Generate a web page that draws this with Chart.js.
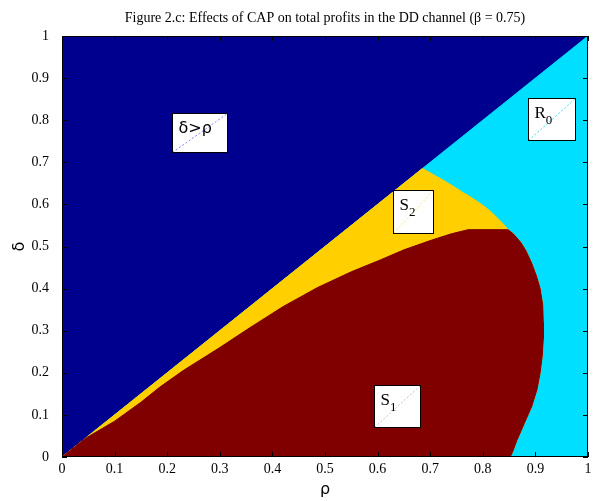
<!DOCTYPE html>
<html>
<head>
<meta charset="utf-8">
<script src="https://cdn.jsdelivr.net/npm/chart.js@4.4.0/dist/chart.umd.min.js"></script>
<style>
  html, body { margin: 0; padding: 0; background: #fff; }
  #wrap { width: 606px; height: 501px; }
</style>
</head>
<body>
<div id="wrap"><canvas id="chart" width="606" height="501"></canvas></div>
<script>
// Axis ticks
const tickValues = [0, 0.1, 0.2, 0.3, 0.4, 0.5, 0.6, 0.7, 0.8, 0.9, 1];
const tickLabels = ['0', '0.1', '0.2', '0.3', '0.4', '0.5', '0.6', '0.7', '0.8', '0.9', '1'];

// Upper-left edge of S1 (S1 / S2 boundary), from origin to the flat top
const s1UpperRho   = [0, 0.044, 0.10, 0.15, 0.186, 0.23, 0.30, 0.357, 0.42, 0.485, 0.55, 0.605, 0.65, 0.70, 0.74, 0.772, 0.848];
const s1UpperDelta = [0, 0.044, 0.085, 0.13, 0.166, 0.205, 0.26, 0.307, 0.357, 0.402, 0.44, 0.468, 0.492, 0.514, 0.53, 0.54, 0.54];

// Right edge of S1 (S1 / R0 boundary), top to bottom
const s1RightRho   = [0.848, 0.858, 0.872, 0.882, 0.893, 0.902, 0.909, 0.914, 0.915, 0.915, 0.913, 0.909, 0.903, 0.893, 0.879, 0.865, 0.856, 0.852];
const s1RightDelta = [0.54, 0.53, 0.51, 0.49, 0.46, 0.43, 0.40, 0.36, 0.32, 0.28, 0.24, 0.20, 0.16, 0.12, 0.08, 0.04, 0.01, 0];

// Upper edge of S2 (S2 / R0 boundary), from the diagonal down to S1
const s2CapRho   = [0.685, 0.70, 0.72, 0.74, 0.76, 0.78, 0.80, 0.815, 0.83, 0.84, 0.848];
const s2CapDelta = [0.685, 0.675, 0.661, 0.646, 0.630, 0.615, 0.598, 0.583, 0.565, 0.552, 0.54];

// Region labels: text and subscript
const labelText = ['δ>ρ', 'S', 'S', 'R'];
const labelSub  = ['', '2', '1', '0'];

const pts = (xs, ys) => xs.map((x, i) => ({ x: x, y: ys[i] }));

const blueShape = pts([0, 0, 1, 1], [0, 1, 1, 0]);
const cyanShape = pts([0, 1, 1], [0, 1, 0]);
const yellowShape = [{ x: 0, y: 0 }]
    .concat(pts(s2CapRho, s2CapDelta))
    .concat(pts(s1RightRho, s1RightDelta));
const redShape = pts(s1UpperRho, s1UpperDelta)
    .concat(pts(s1RightRho, s1RightDelta).slice(1));

// label boxes, corners in (rho, delta)
const boxes = [
    { x0: 0.209, x1: 0.314, y0: 0.724, y1: 0.817, line: 'rgba(120,120,255,0.9)', font: '16px "DejaVu Sans", sans-serif' },
    { x0: 0.629, x1: 0.705, y0: 0.532, y1: 0.634, line: 'rgba(255,207,0,0.5)', font: '17px "Liberation Serif", serif' },
    { x0: 0.593, x1: 0.681, y0: 0.071, y1: 0.171, line: 'rgba(170,40,40,0.35)', font: '17px "Liberation Serif", serif' },
    { x0: 0.886, x1: 0.975, y0: 0.753, y1: 0.853, line: 'rgba(0,223,255,0.8)', font: '17px "Liberation Serif", serif' }
];

function region(data, color, order) {
    return {
        data: data,
        showLine: true,
        fill: 'shape',
        backgroundColor: color,
        borderColor: color,
        borderWidth: 1,
        pointRadius: 0,
        order: order
    };
}

const serif = '"Liberation Serif", "Times New Roman", serif';

const framePlugin = {
    id: 'frame',
    afterDraw(chart) {
        const { ctx, chartArea: a, scales: { x, y } } = chart;
        ctx.save();

        // region label boxes
        boxes.forEach((b, i) => {
            const l = Math.round(x.getPixelForValue(b.x0)) + 0.5;
            const r = Math.round(x.getPixelForValue(b.x1)) + 0.5;
            const t = Math.round(y.getPixelForValue(b.y1)) + 0.5;
            const bt = Math.round(y.getPixelForValue(b.y0)) + 0.5;
            ctx.fillStyle = '#fff';
            ctx.fillRect(l, t, r - l, bt - t);
            ctx.strokeStyle = b.line;
            ctx.lineWidth = 1;
            ctx.setLineDash([2, 2]);
            ctx.beginPath();
            ctx.moveTo(l, bt);
            ctx.lineTo(r, t);
            ctx.stroke();
            ctx.setLineDash([]);
            ctx.strokeStyle = '#000';
            ctx.strokeRect(l, t, r - l, bt - t);

            ctx.fillStyle = '#000';
            ctx.textAlign = 'left';
            ctx.textBaseline = 'alphabetic';
            ctx.font = b.font;
            ctx.fillText(labelText[i], l + 6, t + 19);
            if (labelSub[i]) {
                const w = ctx.measureText(labelText[i]).width;
                ctx.font = '13px ' + serif;
                ctx.fillText(labelSub[i], l + 6 + w, t + 25);
            }
        });

        // axes box
        ctx.strokeStyle = '#000';
        ctx.lineWidth = 1;
        ctx.strokeRect(a.left + 0.5, a.top + 0.5, a.right - a.left - 1, a.bottom - a.top - 1);

        // inward ticks on all four sides
        const len = 5;
        ctx.beginPath();
        tickValues.forEach(v => {
            const px = Math.round(x.getPixelForValue(v)) + 0.5;
            ctx.moveTo(px, a.bottom); ctx.lineTo(px, a.bottom - len);
            ctx.moveTo(px, a.top); ctx.lineTo(px, a.top + len);
            const py = Math.round(y.getPixelForValue(v)) + 0.5;
            ctx.moveTo(a.left, py); ctx.lineTo(a.left + len, py);
            ctx.moveTo(a.right, py); ctx.lineTo(a.right - len, py);
        });
        ctx.stroke();

        // title and axis names
        const cx = (a.left + a.right) / 2;
        ctx.fillStyle = '#000';
        ctx.textAlign = 'center';
        ctx.textBaseline = 'middle';
        ctx.font = '14px ' + serif;
        ctx.fillText('Figure 2.c: Effects of CAP on total profits in the DD channel (β = 0.75)', cx, 18);

        ctx.font = '16px "DejaVu Sans", sans-serif';
        ctx.fillText('ρ', cx, 490);
        ctx.save();
        ctx.translate(20, (a.top + a.bottom) / 2);
        ctx.rotate(-Math.PI / 2);
        ctx.fillText('δ', 0, 0);
        ctx.restore();

        ctx.restore();
    }
};

const tickFormat = (value) => {
    const i = tickValues.findIndex(v => Math.abs(v - value) < 1e-9);
    return i >= 0 ? tickLabels[i] : '';
};

new Chart(document.getElementById('chart').getContext('2d'), {
    type: 'scatter',
    data: {
        datasets: [
            region(redShape, '#800000', 1),
            region(yellowShape, '#FFCF00', 2),
            region(cyanShape, '#00DFFF', 3),
            region(blueShape, '#00008F', 4)
        ]
    },
    options: {
        responsive: false,
        animation: false,
        layout: { padding: { top: 36, right: 18, left: 0, bottom: 0 } },
        plugins: {
            legend: { display: false },
            tooltip: { enabled: false },
            title: { display: false }
        },
        scales: {
            x: {
                type: 'linear',
                min: 0,
                max: 1,
                grid: { display: false },
                border: { display: false },
                afterBuildTicks: s => { s.ticks = tickValues.map(v => ({ value: v })); },
                afterFit: s => { s.height = 44; },
                ticks: { color: '#000', padding: -4, maxRotation: 0, autoSkip: false, callback: tickFormat, font: { family: serif, size: 14 } }
            },
            y: {
                type: 'linear',
                min: 0,
                max: 1,
                grid: { display: false },
                border: { display: false },
                afterBuildTicks: s => { s.ticks = tickValues.map(v => ({ value: v })); },
                afterFit: s => { s.width = 62; },
                ticks: { color: '#000', padding: 5, autoSkip: false, callback: tickFormat, font: { family: serif, size: 14 } }
            }
        }
    },
    plugins: [framePlugin]
});
</script>
</body>
</html>
